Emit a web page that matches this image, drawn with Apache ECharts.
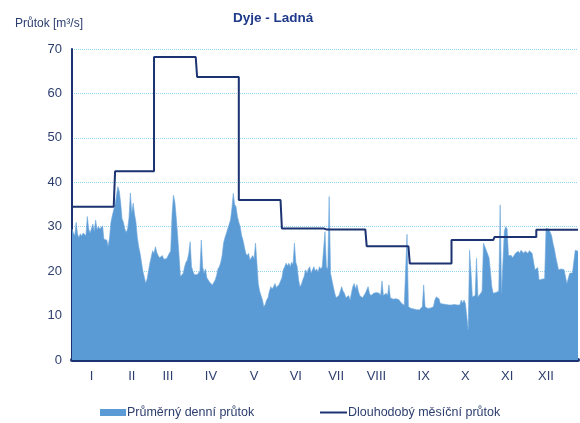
<!DOCTYPE html>
<html>
<head>
<meta charset="utf-8">
<script src="https://cdn.jsdelivr.net/npm/echarts@6/dist/echarts.min.js"></script>
<style>
  html, body { margin: 0; padding: 0; background: #fff; }
  #chart { width: 580px; height: 423px; }
</style>
</head>
<body>
<div id="chart"></div>
<script>
// denni prutoky po mesicich [m3/s]
var jan = [29.5,28.6,28.0,31.0,28.3,27.6,28.4,27.9,28.6,28.2,28.0,32.3,29.5,28.6,28.9,30.6,29.0,31.5,29.4,30.0,29.5,29.9,30.2,27.2,27.0,27.0,25.6,27.5,31.0,32.5,33.8];
var feb = [35.0,37.0,39.0,38.0,35.5,31.8,31.0,29.5,28.7,29.5,32.0,37.6,33.0,35.3,32.8,31.0,27.6,25.5,24.0,22.0,20.0,18.7,17.3,18.2,20.0,21.8,23.2,24.6];
var mar = [24.0,25.5,24.2,23.5,23.0,22.9,23.5,22.7,22.9,22.8,23.0,24.0,24.5,33.0,37.1,35.5,32.0,28.0,23.5,18.8,18.6,19.5,21.0,22.0,22.5,24.0,26.6,21.0,20.0,19.2,19.5];
var apr = [19.2,19.5,20.0,27.0,21.0,19.5,20.5,18.5,18.0,17.5,17.2,16.9,17.0,18.0,19.0,20.5,21.0,22.0,23.5,26.3,27.5,28.5,29.5,30.5,31.5,34.0,37.5,35.0,34.5,32.3];
var may = [31.0,30.0,28.0,27.0,25.5,24.0,23.5,24.0,22.5,23.0,23.5,22.8,26.3,22.0,17.2,15.5,14.5,13.5,12.0,12.5,13.5,14.0,15.5,16.5,16.0,16.5,17.2,16.3,16.5,17.0,17.2];
var jun = [18.5,20.3,21.0,21.8,21.2,21.8,21.0,22.0,21.5,26.3,22.0,21.0,18.0,16.5,17.0,18.0,18.8,20.3,19.5,20.5,21.0,19.5,20.3,21.0,20.0,20.5,19.8,21.0,20.5,21.0];
var jul = [21.0,28.9,21.0,20.5,36.8,19.5,18.0,16.5,15.0,14.0,13.6,14.5,15.5,16.5,15.5,15.0,14.0,13.8,14.5,13.5,15.0,16.5,17.2,16.0,17.0,15.5,14.5,14.2,14.0,14.5,15.0];
var aug = [14.8,16.5,15.0,14.5,14.8,15.0,14.6,15.2,14.8,15.0,14.5,17.8,14.5,14.2,15.0,14.5,16.9,14.0,13.9,13.7,13.5,13.8,13.5,13.6,13.4,12.8,12.5,12.3,12.0,28.3,12.0];
var sep = [11.8,11.6,12.0,11.5,11.4,11.3,11.5,11.3,11.4,12.0,16.9,12.0,11.8,11.6,11.8,11.7,11.9,12.0,13.5,14.2,14.3,13.8,12.7,12.5,12.6,12.4,12.5,12.6,12.4,12.5];
var oct = [12.4,12.4,12.5,12.4,12.4,12.5,12.4,13.5,12.8,13.5,12.7,12.8,6.8,24.7,20.0,14.2,14.0,14.5,22.9,14.2,14.0,15.0,15.5,26.3,25.5,24.7,24.5,23.0,20.0,16.5,15.0];
var nov = [15.0,15.2,15.0,15.5,34.9,15.0,15.2,29.0,30.0,29.5,23.5,23.2,23.5,23.0,23.3,24.0,23.8,24.5,24.0,24.7,24.3,24.0,24.5,24.2,24.0,24.6,24.3,24.0,24.0,20.3];
var dec = [20.3,20.8,18.0,18.0,18.2,18.0,18.3,29.6,29.8,29.5,29.6,28.0,26.3,25.0,23.2,23.5,20.3,20.3,20.5,20.3,20.3,20.5,17.2,17.5,19.5,19.5,19.6,19.5,24.7,24.7,24.5];

// dlouhodoby mesicni prutok
var monthlyFlow = [34.5, 42.5, 68.2, 63.7, 36.0, 29.6, 29.4, 25.6, 21.7, 27.0, 27.7, 29.3];
var monthNames = ['I','II','III','IV','V','VI','VII','VIII','IX','X','XI','XII'];
var labelDays = [14, 43, 69, 100, 131, 161, 190, 219, 253, 283, 313, 341];

var monthsDaily = [jan, feb, mar, apr, may, jun, jul, aug, sep, oct, nov, dec];
var days = [], daily = [], longTerm = [];
monthsDaily.forEach(function (m, mi) {
  m.forEach(function (v) {
    days.push(String(days.length));
    daily.push(v);
    longTerm.push(monthlyFlow[mi]);
  });
});

var navy = '#1c3372';
var txt = '#2c3e6e';

var chart = echarts.init(document.getElementById('chart'));
chart.setOption({
  animation: false,
  title: [
    { text: 'Dyje - Ladná', left: 228, top: 6,
      textStyle: { color: '#1f3a8a', fontSize: 13.5, fontWeight: 'bold', fontFamily: 'Liberation Sans' } },
    { text: 'Průtok [m³/s]', left: 10, top: 13,
      textStyle: { color: txt, fontSize: 12, fontWeight: 'normal', fontFamily: 'Liberation Sans' } }
  ],
  legend: [
    { left: 95, top: 401, itemWidth: 26, itemHeight: 7, data: [{ name: 'Průměrný denní průtok', icon: 'rect' }],
      textStyle: { color: txt, fontSize: 12.5, fontFamily: 'Liberation Sans', padding: [0, 0, 0, -4] } },
    { left: 315, top: 401, itemWidth: 27, itemHeight: 2, data: [{ name: 'Dlouhodobý měsíční průtok', icon: 'rect' }],
      textStyle: { color: txt, fontSize: 12.5, fontFamily: 'Liberation Sans', padding: [0, 0, 0, -4] } }
  ],
  grid: { left: 72, right: 2, top: 49, bottom: 63 },
  xAxis: {
    type: 'category',
    data: days,
    boundaryGap: false,
    axisTick: { show: false },
    axisLine: { lineStyle: { color: navy, width: 4 } },
    axisLabel: {
      color: txt, fontSize: 13, fontFamily: 'Liberation Sans', margin: 10,
      interval: function (idx) { return labelDays.indexOf(idx) >= 0; },
      formatter: function (val, idx) { return monthNames[labelDays.indexOf(idx)]; }
    },
    splitLine: { show: false }
  },
  yAxis: {
    type: 'value',
    min: 0, max: 70, interval: 10,
    axisLine: { show: true, lineStyle: { color: navy, width: 2 } },
    axisTick: { show: false },
    axisLabel: { color: txt, fontSize: 13, fontFamily: 'Liberation Sans', margin: 10 },
    splitLine: { lineStyle: { color: '#8fd4f2', type: 'dotted', width: 1 } }
  },
  series: [
    {
      name: 'Průměrný denní průtok',
      type: 'line',
      data: daily,
      color: '#5b9bd5',
      symbol: 'none',
      lineStyle: { width: 0.6, color: '#6fa8dc' },
      areaStyle: { color: '#5b9bd5', opacity: 1 },
      z: 2
    },
    {
      name: 'Dlouhodobý měsíční průtok',
      type: 'line',
      data: longTerm,
      step: 'end',
      color: navy,
      symbol: 'none',
      lineStyle: { width: 2, color: navy },
      z: 3
    }
  ]
});
</script>
</body>
</html>
